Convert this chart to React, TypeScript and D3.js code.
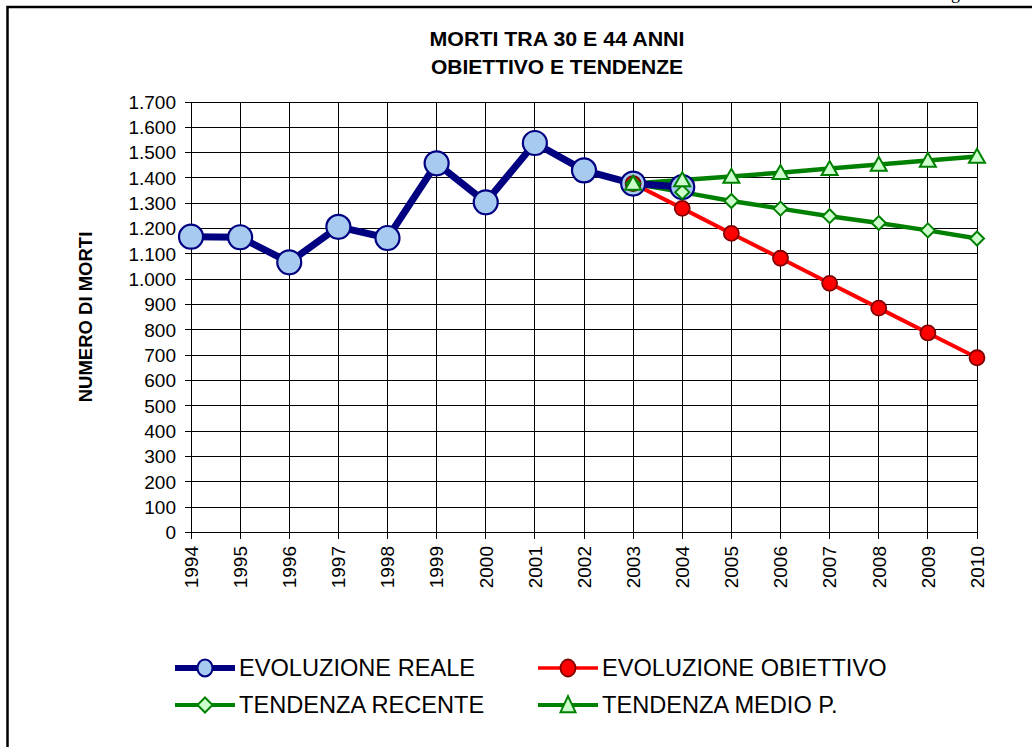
import React from "react";
import * as d3 from "d3";

const years = ["1994","1995","1996","1997","1998","1999","2000","2001","2002","2003","2004","2005","2006","2007","2008","2009","2010"];
const realeYears = ["1994","1995","1996","1997","1998","1999","2000","2001","2002","2003","2004"];
const realeValues = [1168, 1166, 1067, 1207, 1163, 1458, 1304, 1538, 1430, 1378, 1364];
const trendYears = ["2003","2004","2005","2006","2007","2008","2009","2010"];
const obiettivoValues = [1378, 1280, 1181, 1083, 984, 886, 788, 690];
const recenteValues = [1378, 1344, 1309, 1279, 1249, 1222, 1193, 1161];
const medioValues = [1378, 1392, 1406, 1421, 1437, 1453, 1469, 1485];
const yTicks = d3.range(0, 1701, 100);

const W = 1032;
const H = 747;
const M = { left: 191, right: 977, top: 102, bottom: 532.5 };

const fmt = (v: number) => d3.format(",")(v).replace(/,/g, ".");

const NAVY = "#000080";
const LIGHTBLUE = "#a6caf0";
const RED = "#ff0000";
const DARKRED = "#800000";
const GREEN = "#008000";
const PALEGREEN = "#ccffcc";

function Diamond({ x, y, s }: { x: number; y: number; s: number }) {
  return (
    <path
      d={`M${x},${y - s}L${x + s},${y}L${x},${y + s}L${x - s},${y}Z`}
      fill={PALEGREEN}
      stroke={GREEN}
      strokeWidth={2}
    />
  );
}

function Triangle({ x, y, w, h }: { x: number; y: number; w: number; h: number }) {
  return (
    <path
      d={`M${x},${y - h * 0.55}L${x + w / 2},${y + h * 0.45}L${x - w / 2},${y + h * 0.45}Z`}
      fill={PALEGREEN}
      stroke={GREEN}
      strokeWidth={2}
      strokeLinejoin="miter"
    />
  );
}

export default function App() {
  const x = d3.scalePoint<string>().domain(years).range([M.left, M.right]);
  const y = d3.scaleLinear().domain([0, 1700]).range([M.bottom, M.top]);

  const line = d3
    .line<[string, number]>()
    .x((d) => x(d[0]) as number)
    .y((d) => y(d[1]));

  const reale: [string, number][] = realeYears.map((yr, i) => [yr, realeValues[i]]);
  const obiettivo: [string, number][] = trendYears.map((yr, i) => [yr, obiettivoValues[i]]);
  const recente: [string, number][] = trendYears.map((yr, i) => [yr, recenteValues[i]]);
  const medio: [string, number][] = trendYears.map((yr, i) => [yr, medioValues[i]]);

  const font = "'Liberation Sans', Arial, sans-serif";

  const legendRows = [668, 705];
  const legendCols = [175, 538];

  return (
    <svg width={W} height={H} style={{ position: "absolute", left: 0, top: 0, background: "#fff" }}>
      <rect x={0} y={0} width={W} height={H} fill="#fff" />
      {/* page fragment above the chart frame */}
      <text x={951} y={-1} fontFamily="'Liberation Serif', serif" fontSize={18} fill="#000">g</text>
      {/* chart frame */}
      <path d={`M7.5,${H + 2}V7H${W + 2}`} fill="none" stroke="#000" strokeWidth={2.5} />

      {/* title */}
      <text x={557} y={45.5} textAnchor="middle" fontFamily={font} fontWeight="bold" fontSize={21}
        textLength={255} lengthAdjust="spacingAndGlyphs">MORTI TRA 30 E 44 ANNI</text>
      <text x={557} y={73.5} textAnchor="middle" fontFamily={font} fontWeight="bold" fontSize={21}>OBIETTIVO E TENDENZE</text>

      {/* grid */}
      <g stroke="#000" strokeWidth={1} shapeRendering="crispEdges">
        {yTicks.map((t) => (
          <line key={"h" + t} x1={M.left - 6} x2={M.right} y1={y(t)} y2={y(t)} />
        ))}
        {years.map((yr) => (
          <line key={"v" + yr} x1={x(yr)} x2={x(yr)} y1={M.top} y2={M.bottom + 6} />
        ))}
      </g>

      {/* y tick labels */}
      {yTicks.map((t) => (
        <text key={"yl" + t} x={176} y={y(t)} dy="0.36em" textAnchor="end" fontFamily={font} fontSize={19}>
          {fmt(t)}
        </text>
      ))}

      {/* x tick labels */}
      {years.map((yr) => (
        <text
          key={"xl" + yr}
          transform={`translate(${x(yr)},546) rotate(-90)`}
          dy="0.36em"
          textAnchor="end"
          fontFamily={font}
          fontSize={19}
        >
          {yr}
        </text>
      ))}

      {/* y axis title */}
      <text
        transform="translate(85,317) rotate(-90)"
        dy="0.36em"
        textAnchor="middle"
        fontFamily={font}
        fontWeight="bold"
        fontSize={18.5}
      >
        NUMERO DI MORTI
      </text>

      {/* series lines */}
      <path d={line(obiettivo) || ""} fill="none" stroke={RED} strokeWidth={4} />
      <path d={line(recente) || ""} fill="none" stroke={GREEN} strokeWidth={4.5} />
      <path d={line(medio) || ""} fill="none" stroke={GREEN} strokeWidth={4.5} />
      <path d={line(reale) || ""} fill="none" stroke={NAVY} strokeWidth={7} strokeLinejoin="round" />

      {/* series markers */}
      {reale.map((d) => (
        <circle key={"r" + d[0]} cx={x(d[0])} cy={y(d[1])} r={12} fill={LIGHTBLUE} stroke={NAVY} strokeWidth={2.2} />
      ))}
      {obiettivo.map((d) => (
        <circle key={"o" + d[0]} cx={x(d[0])} cy={y(d[1])} r={7.5} fill={RED} stroke={DARKRED} strokeWidth={1.8} />
      ))}
      {recente.map((d) => (
        <Diamond key={"d" + d[0]} x={x(d[0]) as number} y={y(d[1])} s={7} />
      ))}
      {medio.map((d) => (
        <Triangle key={"t" + d[0]} x={x(d[0]) as number} y={y(d[1])} w={16} h={14} />
      ))}

      {/* legend */}
      <g fontFamily={font} fontSize={23.6}>
        <line x1={legendCols[0]} x2={legendCols[0] + 60} y1={legendRows[0]} y2={legendRows[0]} stroke={NAVY} strokeWidth={6} />
        <ellipse cx={legendCols[0] + 30} cy={legendRows[0]} rx={7.5} ry={8.5} fill={LIGHTBLUE} stroke={NAVY} strokeWidth={2} />
        <text x={legendCols[0] + 64} y={legendRows[0]} dy="0.36em">EVOLUZIONE REALE</text>

        <line x1={legendCols[1]} x2={legendCols[1] + 60} y1={legendRows[0]} y2={legendRows[0]} stroke={RED} strokeWidth={3.5} />
        <ellipse cx={legendCols[1] + 30} cy={legendRows[0]} rx={7.5} ry={8.5} fill={RED} stroke={DARKRED} strokeWidth={1.8} />
        <text x={legendCols[1] + 64} y={legendRows[0]} dy="0.36em">EVOLUZIONE OBIETTIVO</text>

        <line x1={legendCols[0]} x2={legendCols[0] + 60} y1={legendRows[1]} y2={legendRows[1]} stroke={GREEN} strokeWidth={4} />
        <Diamond x={legendCols[0] + 30} y={legendRows[1]} s={7.5} />
        <text x={legendCols[0] + 64} y={legendRows[1]} dy="0.36em">TENDENZA RECENTE</text>

        <line x1={legendCols[1]} x2={legendCols[1] + 60} y1={legendRows[1]} y2={legendRows[1]} stroke={GREEN} strokeWidth={4} />
        <Triangle x={legendCols[1] + 30} y={legendRows[1]} w={15} h={16} />
        <text x={legendCols[1] + 64} y={legendRows[1]} dy="0.36em">TENDENZA MEDIO P.</text>
      </g>
    </svg>
  );
}
